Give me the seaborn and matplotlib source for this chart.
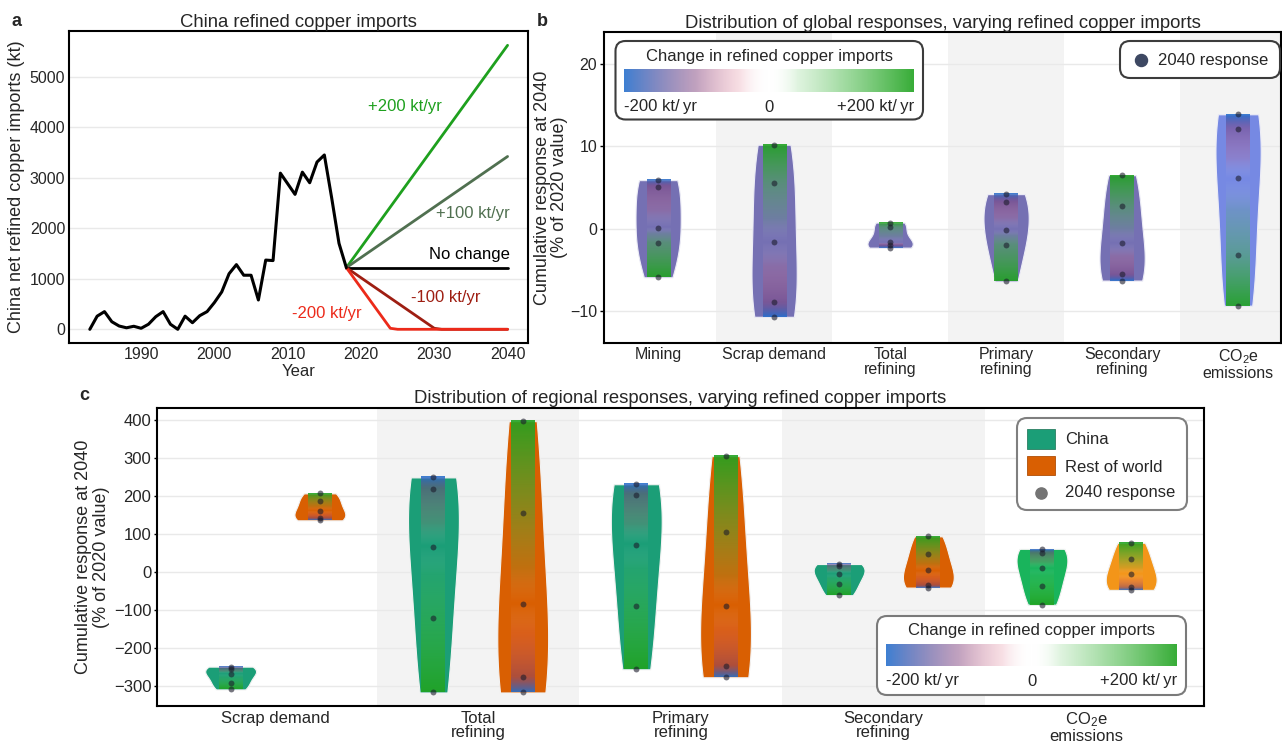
import numpy as np
import pandas as pd
import matplotlib
matplotlib.use("Agg")
import matplotlib.pyplot as plt
import seaborn as sns
from matplotlib.colors import LinearSegmentedColormap
from matplotlib.patches import FancyBboxPatch, Rectangle
from matplotlib.ticker import FixedLocator

# ---------------- data ----------------
hist_years = list(range(1983, 2019))
hist_imports = [0, 260, 350, 150, 65, 30, 60, 20, 100, 250, 350, 100, 0, 260, 130,
                270, 350, 530, 740, 1100, 1280, 1070, 1070, 580, 1370, 1360, 3090,
                2880, 2670, 3110, 2900, 3310, 3450, 2600, 1700, 1220]
up_years = [2018, 2040]
plus200 = [1220, 5620]
plus100 = [1220, 3420]
nochange = [1220, 1220]
minus100_years = [2018, 2030, 2031, 2040]
minus100 = [1220, 20, 0, 0]
minus200_years = [2018, 2024, 2025, 2040]
minus200 = [1220, 20, 0, 0]

scenarios = [-200, -100, 0, 100, 200]   # kt/yr change, order of values below

cats_b = ['Mining', 'Scrap demand', 'Total\nrefining', 'Primary\nrefining',
          'Secondary\nrefining', 'CO$_2$e\nemissions']
b_mining = [5.9, 5.1, 0.1, -1.7, -5.9]
b_scrap = [-10.7, -8.9, -1.6, 5.5, 10.2]
b_total = [-2.3, -1.95, -1.65, 0.15, 0.75]
b_primary = [4.2, 3.2, -0.15, -2.0, -6.4]
b_secondary = [-6.3, -5.5, -1.7, 2.7, 6.5]
b_co2e = [13.9, 12.15, 6.1, -3.2, -9.35]
b_values = [b_mining, b_scrap, b_total, b_primary, b_secondary, b_co2e]

cats_c = ['Scrap demand', 'Total\nrefining', 'Primary\nrefining',
          'Secondary\nrefining', 'CO$_2$e\nemissions']
regions = ['China', 'Rest of world']
c_china_scrap = [-249, -256, -268, -291, -309]
c_row_scrap = [136, 142, 161, 188, 207]
c_china_total = [249, 218, 66, -122, -317]
c_row_total = [-317, -277, -85, 154, 397]
c_china_primary = [231, 203, 72, -89, -256]
c_row_primary = [-277, -247, -89, 106, 305]
c_china_secondary = [21, 15, -6, -32, -61]
c_row_secondary = [-41, -33, 4, 48, 94]
c_china_co2e = [61, 51, 11, -36, -86]
c_row_co2e = [-47, -39, -5, 33, 77]
c_china = [c_china_scrap, c_china_total, c_china_primary, c_china_secondary, c_china_co2e]
c_row = [c_row_scrap, c_row_total, c_row_primary, c_row_secondary, c_row_co2e]

# ---------------- style ----------------
sns.set_theme(style='white')
plt.rcParams['font.family'] = ['Liberation Sans', 'DejaVu Sans']
plt.rcParams['mathtext.fontset'] = 'custom'
plt.rcParams['mathtext.rm'] = 'Liberation Sans'
plt.rcParams['mathtext.it'] = 'Liberation Sans:italic'
plt.rcParams['mathtext.bf'] = 'Liberation Sans:bold'
plt.rcParams['axes.unicode_minus'] = True

imp_cmap = LinearSegmentedColormap.from_list('imports', [
    (0.00, (0.14, 0.43, 0.80, 0.88)),
    (0.25, (0.50, 0.24, 0.48, 0.48)),
    (0.40, (0.86, 0.38, 0.48, 0.20)),
    (0.50, (1.00, 1.00, 1.00, 0.00)),
    (0.60, (0.30, 0.75, 0.30, 0.18)),
    (0.75, (0.22, 0.70, 0.22, 0.45)),
    (1.00, (0.13, 0.64, 0.13, 0.90)),
])

W, H = 1282, 742
fig = plt.figure(figsize=(W / 100, H / 100), dpi=100)


def px_axes(x0, y0, x1, y1):
    return fig.add_axes([x0 / W, 1 - y1 / H, (x1 - x0) / W, (y1 - y0) / H])


def style(ax):
    for s in ax.spines.values():
        s.set_visible(True)
        s.set_color('black')
        s.set_linewidth(1.5)
    ax.set_axisbelow(True)
    ax.yaxis.grid(True, color='#e9e9e9', lw=1)
    ax.xaxis.grid(False)


def add_inner(ax, xc, vals, w):
    vals = np.asarray(vals, float)
    order = np.argsort(vals)
    ys = np.linspace(vals.min(), vals.max(), 300)
    sc = np.interp(ys, vals[order], np.asarray(scenarios, float)[order])
    rgba = imp_cmap((sc + 200) / 400)[:, None, :]
    ax.imshow(rgba, extent=[xc - w / 2, xc + w / 2, vals.min(), vals.max()],
              origin='lower', aspect='auto', interpolation='bilinear', zorder=2)
    ax.scatter([xc] * len(vals), vals, s=18, color='#1c1c2c', alpha=0.6, lw=0, zorder=3)


axa = px_axes(69.3, 30.7, 528.1, 343.3)
axb = px_axes(604.3, 31.7, 1281, 343.3)
axc = px_axes(157, 408, 1204, 705.7)

TITLE = 13.3
LABEL = 13

# ---------------- panel a ----------------
style(axa)
col200, col100, colm100, colm200 = '#1ea01e', '#507050', '#9e1e12', '#ec2a1a'
sns.lineplot(x=up_years, y=plus200, ax=axa, color=col200, lw=2)
sns.lineplot(x=up_years, y=plus100, ax=axa, color=col100, lw=2)
sns.lineplot(x=up_years, y=nochange, ax=axa, color='black', lw=2)
sns.lineplot(x=minus100_years, y=minus100, ax=axa, color=colm100, lw=2)
sns.lineplot(x=minus200_years, y=minus200, ax=axa, color=colm200, lw=2)
sns.lineplot(x=hist_years, y=hist_imports, ax=axa, color='black', lw=2.2)
axa.text(2026.0, 4408, '+200 kt/yr', color=col200, ha='center', va='center', fontsize=12)
axa.text(2035.2, 2290, '+100 kt/yr', color=col100, ha='center', va='center', fontsize=12)
axa.text(2040.3, 1487, 'No change', color='black', ha='right', va='center', fontsize=12)
axa.text(2031.5, 625, '-100 kt/yr', color=colm100, ha='center', va='center', fontsize=12)
axa.text(2015.3, 316, '-200 kt/yr', color=colm200, ha='center', va='center', fontsize=12)
axa.set_xlim(1980.2, 2042.8)
axa.set_ylim(-277, 5909)
axa.set_xticks([1990, 2000, 2010, 2020, 2030, 2040])
axa.set_yticks([0, 1000, 2000, 3000, 4000, 5000])
axa.tick_params(axis='both', labelsize=11.5, length=0, pad=3)
axa.set_xlabel('Year', fontsize=12, labelpad=1)
axa.set_ylabel('China net refined copper imports (kt)', fontsize=LABEL, labelpad=3)
axa.set_title('China refined copper imports', fontsize=TITLE, pad=3)

# ---------------- panel b ----------------
style(axb)
for lo in (0.5, 2.5, 4.5):
    axb.axvspan(lo, lo + 1, color='#f3f3f3', lw=0, zorder=0)
df_b = pd.DataFrame({'category': np.repeat(cats_b, len(scenarios)),
                     'response': np.concatenate(b_values)})
pal_b = {c: '#7570b3' for c in cats_b}
pal_b[cats_b[-1]] = '#7689e3'
sns.violinplot(data=df_b, x='category', y='response', hue='category', order=cats_b,
               hue_order=cats_b, palette=pal_b, dodge=False, cut=0, inner=None,
               density_norm='width', width=0.39, linewidth=0.8, linecolor='#ececf6',
               saturation=1, legend=False, ax=axb)
for i, vals in enumerate(b_values):
    add_inner(axb, i, vals, 0.2)
axb.set_xlim(-0.464, 5.37)
axb.set_ylim(-13.92, 23.93)
axb.set_yticks([-10, 0, 10, 20])
axb.xaxis.set_minor_locator(FixedLocator(np.arange(0.5, 5, 1)))
axb.tick_params(axis='x', which='major', length=0, pad=3, labelsize=11.5)
axb.tick_params(axis='x', which='minor', length=6, width=1.5, direction='inout', color='black')
axb.tick_params(axis='y', length=3, width=1, pad=2, labelsize=11.5, color='black', left=True)
for lab in axb.get_xticklabels():
    lab.set_linespacing(0.95)
axb.set_xlabel('')
axb.set_ylabel('Cumulative response at 2040\n(% of 2020 value)', fontsize=LABEL, labelpad=1.5,
               linespacing=1.02)
axb.set_title('Distribution of global responses, varying refined copper imports',
              fontsize=TITLE, pad=3)

# ---------------- panel c ----------------
style(axc)
for lo in (0.5, 2.5):
    axc.axvspan(lo, lo + 1, color='#f3f3f3', lw=0, zorder=0)
rows = []
for ci, cat in enumerate(cats_c):
    for reg, src in zip(regions, (c_china, c_row)):
        for v in src[ci]:
            rows.append((cat, reg, v))
df_c = pd.DataFrame(rows, columns=['category', 'region', 'response'])
co2_cat = cats_c[-1]
common = dict(x='category', y='response', hue='region', order=cats_c, hue_order=regions,
              dodge=True, width=0.88, gap=0.43, cut=0, inner=None, density_norm='width',
              linewidth=0.8, linecolor='#f2f2f2', saturation=1, legend=False, ax=axc)
sns.violinplot(data=df_c[df_c['category'] != co2_cat],
               palette={'China': '#1b9e77', 'Rest of world': '#d95f02'}, **common)
sns.violinplot(data=df_c[df_c['category'] == co2_cat],
               palette={'China': '#19b45c', 'Rest of world': '#f39519'}, **common)
for i in range(len(cats_c)):
    add_inner(axc, i - 0.22, c_china[i], 0.118)
    add_inner(axc, i + 0.22, c_row[i], 0.118)
axc.set_xlim(-0.583, 4.579)
axc.set_ylim(-351.8, 431.6)
axc.set_yticks(np.arange(-300, 401, 100))
axc.xaxis.set_minor_locator(FixedLocator(np.arange(-0.5, 5, 1)))
axc.tick_params(axis='x', which='major', length=0, pad=3.5, labelsize=12)
axc.tick_params(axis='x', which='minor', length=6, width=1.5, direction='inout', color='black')
axc.tick_params(axis='y', length=2.5, width=1, pad=1.5, labelsize=12, color='black', left=True)
for lab in axc.get_xticklabels():
    lab.set_linespacing(0.95)
axc.set_xlabel('')
axc.set_ylabel('Cumulative response at 2040\n(% of 2020 value)', fontsize=LABEL, labelpad=3,
               linespacing=1.02)
axc.set_title('Distribution of regional responses, varying refined copper imports',
              fontsize=TITLE, pad=3.5)

# ---------------- overlay: legends and panel letters ----------------
ov = fig.add_axes([0, 0, 1, 1], zorder=10)
ov.set_autoscale_on(False)
ov.set_xlim(0, W)
ov.set_ylim(H, 0)
ov.axis('off')


def rbox(x0, y0, x1, y1, ec, lw, r=10):
    ov.add_patch(FancyBboxPatch((x0, y0), x1 - x0, y1 - y0,
                                boxstyle=f"round,pad=0,rounding_size={r}",
                                fc='white', ec=ec, lw=lw, zorder=1))


def cbar_legend(bx0, by0, bx1, by1, gx0, gy0, gx1, gy1, ty, ly, ec):
    rbox(bx0, by0, bx1, by1, ec, 1.5)
    grad = imp_cmap(np.linspace(0, 1, 256))[None, :, :]
    ov.imshow(grad, extent=[gx0, gx1, gy1, gy0], aspect='auto',
              interpolation='bilinear', zorder=2)
    ov.text((bx0 + bx1) / 2, ty, 'Change in refined copper imports', ha='center',
            va='center', fontsize=12, zorder=3)
    ov.text(gx0, ly, '-200 kt/\u2009yr', ha='left', va='center', fontsize=12, zorder=3)
    ov.text((gx0 + gx1) / 2, ly + 1, '0', ha='center', va='center', fontsize=12, zorder=3)
    ov.text(gx1, ly, '+200 kt/\u2009yr', ha='right', va='center', fontsize=12, zorder=3)


cbar_legend(615.5, 41, 923, 119.5, 624, 69, 914, 92, 56.5, 106.5, '#3c3c3c')
cbar_legend(877, 616, 1186, 695, 886, 644, 1177, 666, 631, 680, '#7a7a7a')

# b: 2040 response legend
rbox(1120, 41, 1280, 78, '#3c3c3c', 1.5)
ov.scatter([1141], [60], s=75, color='#3d4862', zorder=3)
ov.text(1158, 60, '2040 response', ha='left', va='center', fontsize=12, zorder=3)

# c: region legend
rbox(1017, 418, 1187, 510, '#7f7f7f', 1.5)
ov.add_patch(Rectangle((1027, 429), 28, 20, fc='#1b9e77', ec='#2a7f62', lw=0.6, zorder=2))
ov.add_patch(Rectangle((1027, 456), 28, 19, fc='#d95f02', ec='#b04e05', lw=0.6, zorder=2))
ov.scatter([1041], [493], s=65, color='#747474', zorder=3)
ov.text(1065, 440, 'China', ha='left', va='center', fontsize=12, zorder=3)
ov.text(1065, 467, 'Rest of world', ha='left', va='center', fontsize=12, zorder=3)
ov.text(1065, 493, '2040 response', ha='left', va='center', fontsize=12, zorder=3)

# panel letters
ov.text(16, 21, 'a', fontsize=13, fontweight='bold', ha='center', va='center')
ov.text(542, 21, 'b', fontsize=13, fontweight='bold', ha='center', va='center')
ov.text(84, 395, 'c', fontsize=13, fontweight='bold', ha='center', va='center')

ov.set_xlim(0, W)
ov.set_ylim(H, 0)

fig.savefig('out.png', dpi=100)
